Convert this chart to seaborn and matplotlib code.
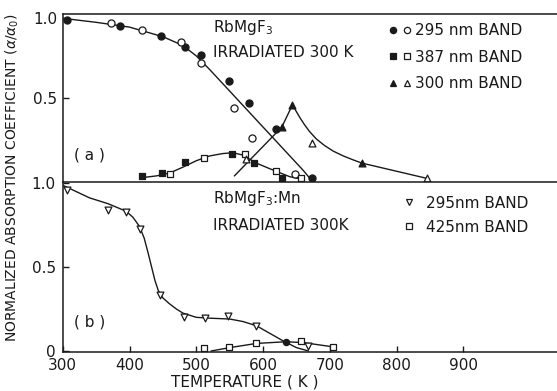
import numpy as np
import pandas as pd
import matplotlib
matplotlib.use("Agg")
import matplotlib.pyplot as plt
import seaborn as sns
from matplotlib.lines import Line2D
from matplotlib.legend_handler import HandlerTuple

# ---- data ----
# panel (a): RbMgF3 irradiated 300 K
a295_filled_T = [306, 386, 447, 483, 507, 549, 579, 619, 673]
a295_filled_v = [0.99, 0.955, 0.89, 0.82, 0.77, 0.61, 0.47, 0.31, 0.0]
a295_open_T = [372, 419, 477, 507, 557, 584, 648]
a295_open_v = [0.97, 0.93, 0.85, 0.72, 0.44, 0.25, 0.03]

a387_filled_T = [419, 448, 483, 554, 587, 628]
a387_filled_v = [0.015, 0.035, 0.10, 0.15, 0.094, 0.0]
a387_open_T = [461, 511, 573, 620, 656]
a387_open_v = [0.027, 0.13, 0.15, 0.046, 0.0]

a300_filled_T = [628, 644, 748]
a300_filled_v = [0.32, 0.46, 0.095]
a300_open_T = [575, 673, 845]
a300_open_v = [0.12, 0.22, 0.0]

# hand drawn guide curves, panel (a)
curve_a295_T = [300, 350, 400, 450, 480, 500, 520, 540, 560, 580, 600, 620, 640, 660, 670]
curve_a295_v = [1.0, 0.975, 0.945, 0.885, 0.83, 0.765, 0.68, 0.59, 0.50, 0.41, 0.32, 0.23, 0.14, 0.05, 0.0]
curve_a387_T = [420, 440, 460, 480, 500, 520, 540, 555, 570, 590, 610, 625, 640, 652]
curve_a387_v = [0.005, 0.015, 0.033, 0.07, 0.11, 0.14, 0.155, 0.16, 0.145, 0.095, 0.06, 0.035, 0.01, 0.0]
curve_a300_T = [557, 628, 644, 648, 655, 662, 670, 680, 692, 705, 720, 735, 748, 845]
curve_a300_v = [0.015, 0.32, 0.46, 0.43, 0.38, 0.335, 0.29, 0.245, 0.205, 0.17, 0.14, 0.115, 0.095, 0.0]

# panel (b): RbMgF3:Mn irradiated 300 K
b295_T = [307, 368, 395, 416, 445, 482, 513, 548, 590, 667]
b295_v = [0.955, 0.84, 0.825, 0.725, 0.33, 0.20, 0.198, 0.21, 0.15, 0.03]
b425_T = [511, 549, 589, 656, 704]
b425_v = [0.018, 0.025, 0.045, 0.06, 0.025]
b_cross_T = [634]
b_cross_v = [0.054]

curve_b295_T = [300, 340, 368, 395, 405, 415, 422, 428, 433, 438, 443, 450, 460, 470, 480, 500,
                520, 550, 570, 590, 610, 630, 650, 668]
curve_b295_v = [0.985, 0.91, 0.875, 0.83, 0.795, 0.74, 0.67, 0.58, 0.50, 0.42, 0.36, 0.315, 0.28,
                0.25, 0.225, 0.20, 0.195, 0.19, 0.175, 0.15, 0.105, 0.06, 0.02, 0.0]
curve_b425_T = [522, 550, 590, 634, 660, 704]
curve_b425_v = [0.0, 0.02, 0.045, 0.055, 0.05, 0.025]

x_ticks = [300, 400, 500, 600, 700, 800, 900]

# ---- style ----
sns.set_theme(style="ticks")
plt.rcParams['font.family'] = ['DejaVu Sans']
plt.rcParams['xtick.direction'] = 'in'
plt.rcParams['ytick.direction'] = 'in'
ink = '#1a1a1a'

fig = plt.figure(figsize=(5.57, 3.91), dpi=100)
ax_a = fig.add_axes([0.1126, 0.5345, 0.8874, 0.4297])
ax_b = fig.add_axes([0.1126, 0.1010, 0.8874, 0.4335])


def curve(ax, T, v):
    sns.lineplot(x=T, y=v, ax=ax, color=ink, lw=1.0, sort=False, estimator=None)


def points(ax, T, v, marker, filled, s=26):
    sns.scatterplot(x=T, y=v, ax=ax, marker=marker, s=s,
                    color=ink if filled else 'white', edgecolor=ink,
                    linewidth=0.9, zorder=5)


# panel (a)
curve(ax_a, curve_a295_T, curve_a295_v)
curve(ax_a, curve_a387_T, curve_a387_v)
curve(ax_a, curve_a300_T, curve_a300_v)
points(ax_a, a295_filled_T, a295_filled_v, 'o', True)
points(ax_a, a295_open_T, a295_open_v, 'o', False)
points(ax_a, a387_filled_T, a387_filled_v, 's', True, 22)
points(ax_a, a387_open_T, a387_open_v, 's', False, 22)
points(ax_a, a300_filled_T, a300_filled_v, '^', True, 24)
points(ax_a, a300_open_T, a300_open_v, '^', False, 24)

# panel (b)
curve(ax_b, curve_b295_T, curve_b295_v)
curve(ax_b, curve_b425_T, curve_b425_v)
points(ax_b, b295_T, b295_v, 'v', False, 24)
points(ax_b, b425_T, b425_v, 's', False, 22)
points(ax_b, b_cross_T, b_cross_v, 'o', True, 20)

for ax in (ax_a, ax_b):
    ax.set_xlim(300, 1040)
    ax.spines['right'].set_visible(False)
    for sp in ('left', 'top', 'bottom'):
        ax.spines[sp].set_color(ink)
        ax.spines[sp].set_linewidth(1.1)
    ax.tick_params(axis='both', length=4, width=1.0, color=ink, labelsize=11,
                   labelcolor=ink, pad=4)
    ax.set_xlabel('')
    ax.set_ylabel('')

ax_a.set_ylim(-0.023, 1.027)
ax_a.set_yticks([0.5, 1.0])
ax_a.set_yticklabels(['0.5', '1.0'])
ax_a.set_xticks([])
ax_a.spines['bottom'].set_visible(False)

ax_b.set_ylim(-0.003, 1.004)
ax_b.set_yticks([0, 0.5, 1.0])
ax_b.set_yticklabels(['0', '0.5', '1.0'])
ax_b.set_xticks(x_ticks)
ax_b.set_xticklabels([str(t) for t in x_ticks])
ax_b.tick_params(axis='x', pad=5)
ax_b.tick_params(axis='y', pad=5)

# annotations
ax_a.text(0.304, 0.917, r'RbMgF$_3$', transform=ax_a.transAxes, fontsize=11, color=ink, va='center')
ax_a.text(0.304, 0.768, 'IRRADIATED 300 K', transform=ax_a.transAxes, fontsize=11, color=ink, va='center')
ax_a.text(0.055, 0.16, '( a )', transform=ax_a.transAxes, fontsize=11, color=ink, va='center', ha='center')

ax_b.text(0.304, 0.90, r'RbMgF$_3$:Mn', transform=ax_b.transAxes, fontsize=11, color=ink, va='center')
ax_b.text(0.304, 0.746, 'IRRADIATED 300K', transform=ax_b.transAxes, fontsize=11, color=ink, va='center')
ax_b.text(0.055, 0.174, '( b )', transform=ax_b.transAxes, fontsize=11, color=ink, va='center', ha='center')


def mk(marker, filled, ms):
    return Line2D([], [], ls='none', marker=marker, ms=ms, mew=0.9,
                  mfc=ink if filled else 'white', mec=ink)


handles_a = [(mk('o', True, 4.5), mk('o', False, 4.5)),
             (mk('s', True, 4), mk('s', False, 4)),
             (mk('^', True, 4.5), mk('^', False, 4.5))]
leg_a = ax_a.legend(handles_a, ['295 nm BAND', '387 nm BAND', '300 nm BAND'],
                    handler_map={tuple: HandlerTuple(ndivide=None, pad=0.4)},
                    loc='upper left', bbox_to_anchor=(0.645, 0.99), frameon=False,
                    fontsize=11, labelspacing=0.75, handlelength=1.4,
                    handletextpad=0.3, borderpad=0)
for t in leg_a.get_texts():
    t.set_color(ink)

handles_b = [mk('v', False, 4.5), mk('s', False, 4)]
leg_b = ax_b.legend(handles_b, ['295nm BAND', '425nm BAND'],
                    loc='upper left', bbox_to_anchor=(0.67, 0.965), frameon=False,
                    fontsize=11, labelspacing=0.6, handlelength=1.0,
                    handletextpad=0.6, borderpad=0)
for t in leg_b.get_texts():
    t.set_color(ink)

fig.text(0.022, 0.545, r'NORMALIZED ABSORPTION COEFFICIENT ($\alpha/\alpha_0$)',
         rotation=90, fontsize=10, color=ink, ha='center', va='center')
fig.text(0.44, 0.004, 'TEMPERATURE ( K )', fontsize=11, color=ink, ha='center', va='bottom')

fig.savefig('out.png', dpi=100)
